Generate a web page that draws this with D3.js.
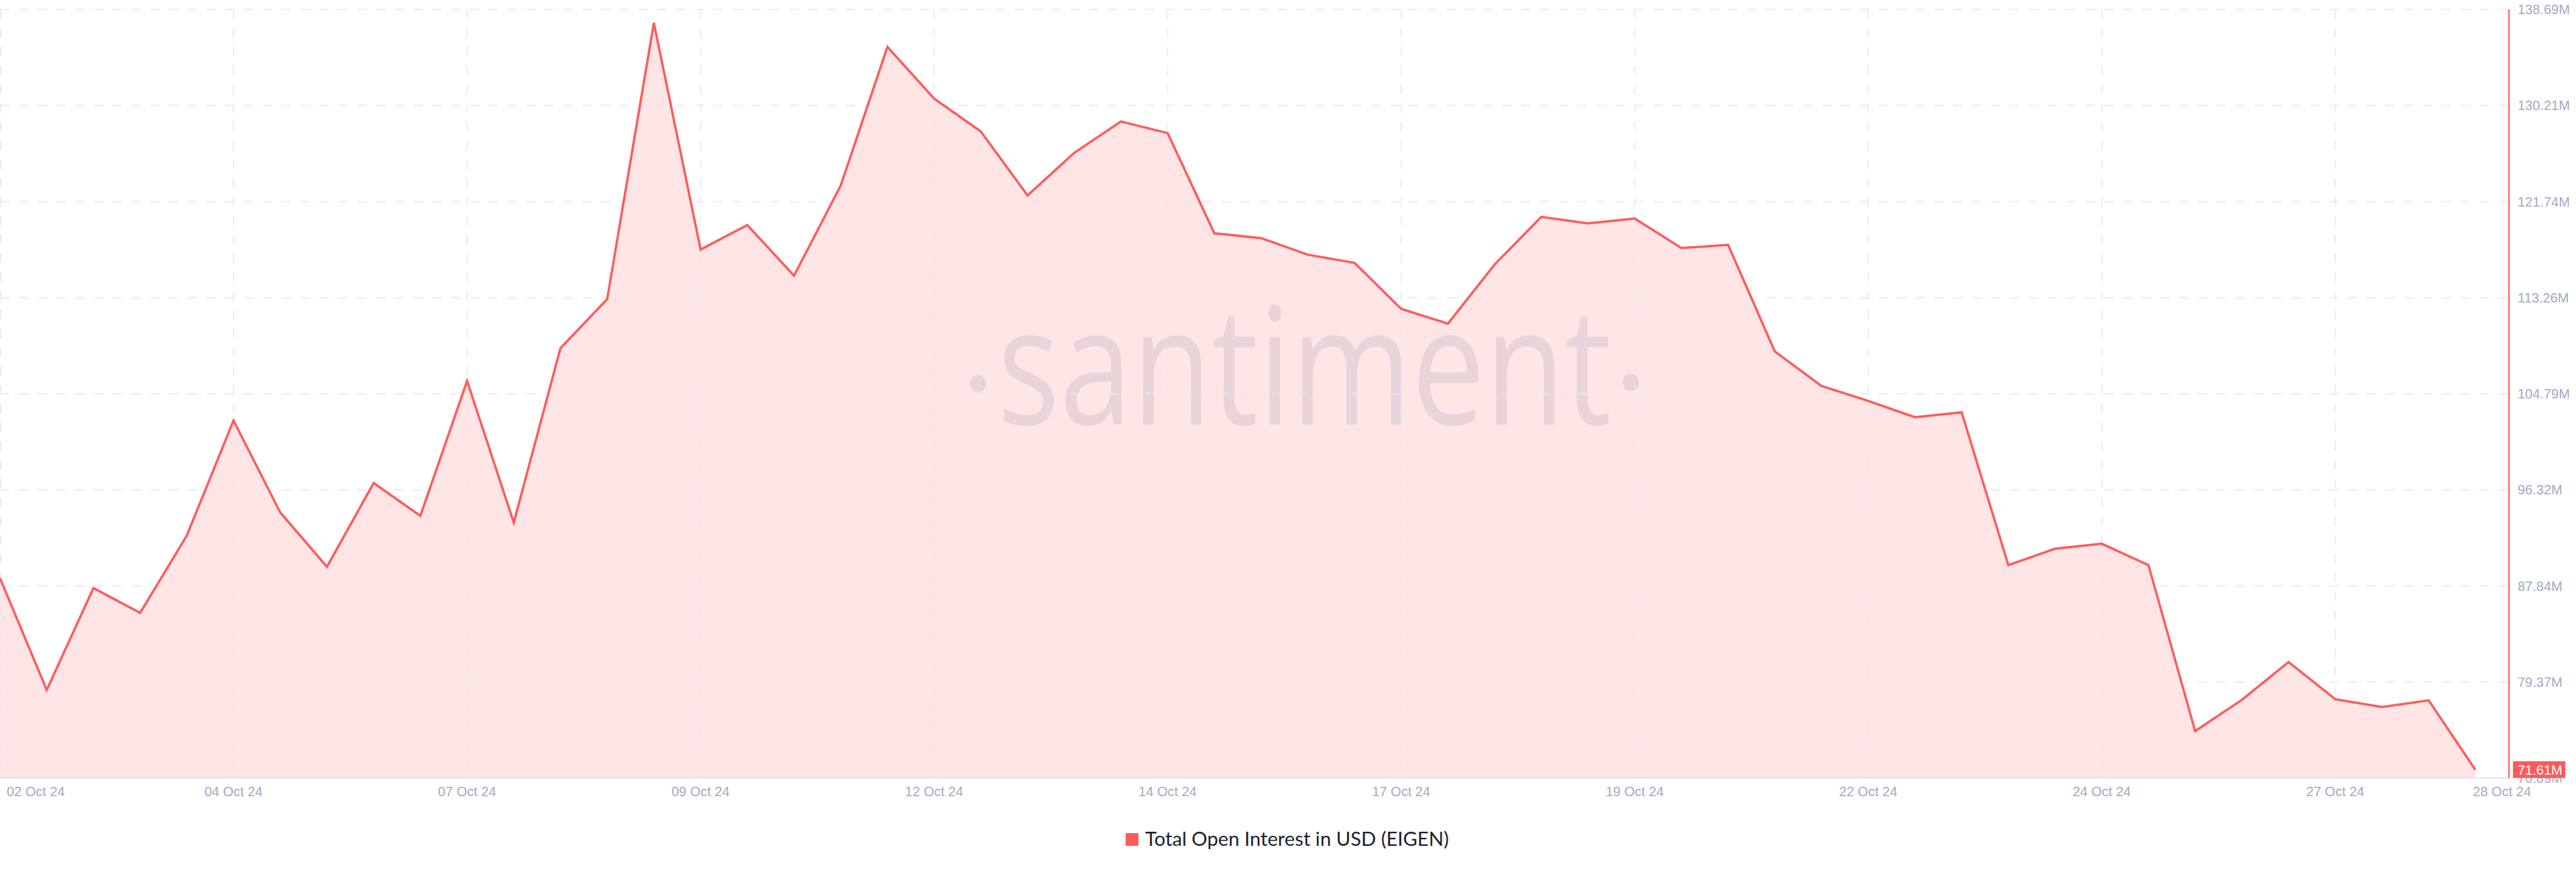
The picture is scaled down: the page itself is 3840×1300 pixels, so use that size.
<!DOCTYPE html>
<html>
<head>
<meta charset="utf-8">
<script src="https://cdn.jsdelivr.net/npm/d3@7"></script>
<style>
  html, body { margin: 0; padding: 0; background: #ffffff; }
  svg { display: block; }
</style>
</head>
<body>
<svg id="chart" width="3840" height="1300"></svg>
<script>
// ---- Data ----
const dates = [
  "2024-10-01T12:00Z","2024-10-02T00:00Z","2024-10-02T12:00Z","2024-10-03T00:00Z","2024-10-03T12:00Z",
  "2024-10-04T00:00Z","2024-10-04T12:00Z","2024-10-05T00:00Z","2024-10-05T12:00Z","2024-10-06T00:00Z",
  "2024-10-06T12:00Z","2024-10-07T00:00Z","2024-10-07T12:00Z","2024-10-08T00:00Z","2024-10-08T12:00Z",
  "2024-10-09T00:00Z","2024-10-09T12:00Z","2024-10-10T00:00Z","2024-10-10T12:00Z","2024-10-11T00:00Z",
  "2024-10-11T12:00Z","2024-10-12T00:00Z","2024-10-12T12:00Z","2024-10-13T00:00Z","2024-10-13T12:00Z",
  "2024-10-14T00:00Z","2024-10-14T12:00Z","2024-10-15T00:00Z","2024-10-15T12:00Z","2024-10-16T00:00Z",
  "2024-10-16T12:00Z","2024-10-17T00:00Z","2024-10-17T12:00Z","2024-10-18T00:00Z","2024-10-18T12:00Z",
  "2024-10-19T00:00Z","2024-10-19T12:00Z","2024-10-20T00:00Z","2024-10-20T12:00Z","2024-10-21T00:00Z",
  "2024-10-21T12:00Z","2024-10-22T00:00Z","2024-10-22T12:00Z","2024-10-23T00:00Z","2024-10-23T12:00Z",
  "2024-10-24T00:00Z","2024-10-24T12:00Z","2024-10-25T00:00Z","2024-10-25T12:00Z","2024-10-26T00:00Z",
  "2024-10-26T12:00Z","2024-10-27T00:00Z","2024-10-27T12:00Z","2024-10-28T00:00Z"
];
// Total Open Interest in USD (EIGEN), millions
const openInterest = [
  88.52, 78.66, 87.65, 85.47, 92.29, 102.43, 94.32, 89.53, 96.92, 94.02,
  105.91, 93.43, 108.81, 113.13, 137.50, 117.51, 119.67, 115.20, 123.15, 135.38,
  130.82, 127.92, 122.28, 126.04, 128.80, 127.78, 118.94, 118.52, 117.06, 116.34,
  112.28, 110.97, 116.19, 120.39, 119.82, 120.25, 117.64, 117.92, 108.52, 105.47,
  104.16, 102.72, 103.15, 89.68, 91.12, 91.56, 89.68, 75.04, 77.79, 81.13,
  77.85, 77.16, 77.75, 71.61
];
const yTickValues = [70.89, 79.37, 87.84, 96.32, 104.79, 113.26, 121.74, 130.21, 138.69];
const xTickDates = [
  "2024-10-01T12:00Z","2024-10-04T00:00Z","2024-10-06T12:00Z","2024-10-09T00:00Z",
  "2024-10-11T12:00Z","2024-10-14T00:00Z","2024-10-16T12:00Z","2024-10-19T00:00Z",
  "2024-10-21T12:00Z","2024-10-24T00:00Z","2024-10-26T12:00Z","2024-10-28T00:00Z"
];
const xTickLabels = [
  "02 Oct 24","04 Oct 24","07 Oct 24","09 Oct 24","12 Oct 24","14 Oct 24",
  "17 Oct 24","19 Oct 24","22 Oct 24","24 Oct 24","27 Oct 24","28 Oct 24"
];
const seriesName = "Total Open Interest in USD (EIGEN)";
const lastValueLabel = "71.61M";

// ---- Layout ----
const plotLeft = 0, plotRight = 3740, plotTop = 14, plotBottom = 1160;
const lastX = 3690;
const RED = "#ff5b5b";
const GRID = "#e6e9f3";
const TICKTXT = "#9faac4";

const svg = d3.select("#chart");
svg.append("rect").attr("width", 3840).attr("height", 1300).attr("fill", "#ffffff");

const parsed = dates.map(d => new Date(d));
const data = parsed.map((d, i) => ({ date: d, v: openInterest[i] }));

const x = d3.scaleUtc().domain(d3.extent(parsed)).range([plotLeft, lastX]);
const y = d3.scaleLinear().domain([yTickValues[0], yTickValues[yTickValues.length - 1]]).range([plotBottom, plotTop]);

// Area fill
const area = d3.area().x(d => x(d.date)).y0(y(yTickValues[0])).y1(d => y(d.v));
svg.append("path").datum(data).attr("d", area).attr("fill", "#ffe5e6");

// Watermark
const wm = svg.append("g").attr("class", "watermark");
wm.append("text")
  .attr("x", 1487).attr("y", 633)
  .attr("font-family", "'Open Sans', sans-serif")
  .attr("font-size", 243)
  .attr("textLength", 915).attr("lengthAdjust", "spacingAndGlyphs")
  .attr("fill", "#e8d4db")
  .text("santiment");
wm.append("ellipse").attr("cx", 1458).attr("cy", 572).attr("rx", 12).attr("ry", 13).attr("fill", "#e8d4db");
wm.append("ellipse").attr("cx", 2431).attr("cy", 570).attr("rx", 12).attr("ry", 13).attr("fill", "#e8d4db");

// Horizontal gridlines
const gridTicks = yTickValues.slice(1);
svg.append("g").selectAll("line").data(gridTicks).join("line")
  .attr("x1", plotLeft).attr("x2", plotRight)
  .attr("y1", d => y(d)).attr("y2", d => y(d))
  .attr("stroke", GRID).attr("stroke-width", 2)
  .attr("stroke-dasharray", "14 14")
  .attr("stroke-opacity", 0.85);

// Vertical gridlines
const xGridDates = xTickDates.slice(0, xTickDates.length - 1).map(d => new Date(d));
svg.append("g").selectAll("line").data(xGridDates).join("line")
  .attr("x1", d => Math.max(1, x(d))).attr("x2", d => Math.max(1, x(d)))
  .attr("y1", plotTop).attr("y2", plotBottom)
  .attr("stroke", GRID).attr("stroke-width", 2)
  .attr("stroke-dasharray", "14 14")
  .attr("stroke-opacity", 0.85);

// Bottom axis line
svg.append("line").attr("x1", plotLeft).attr("x2", plotRight)
  .attr("y1", plotBottom).attr("y2", plotBottom)
  .attr("stroke", "#e1e6f1").attr("stroke-width", 2);

// Series line
const line = d3.line().x(d => x(d.date)).y(d => y(d.v));
svg.append("path").datum(data).attr("d", line)
  .attr("fill", "none").attr("stroke", RED).attr("stroke-width", 3.5)
  .attr("stroke-linejoin", "miter");

// Right axis line
svg.append("line").attr("x1", plotRight).attr("x2", plotRight)
  .attr("y1", plotTop).attr("y2", plotBottom)
  .attr("stroke", RED).attr("stroke-width", 2);

// Y tick labels
const fmtM = d => d.toFixed(2) + "M";
svg.append("g").selectAll("text").data(yTickValues).join("text")
  .attr("x", plotRight + 13).attr("y", d => y(d))
  .attr("dy", "0.35em")
  .attr("font-family", "'Liberation Sans', Arial, sans-serif")
  .attr("font-size", 20)
  .attr("fill", TICKTXT)
  .text(fmtM);

// X tick labels
const xLabG = svg.append("g");
xTickDates.forEach((d, i) => {
  const px = x(new Date(d));
  let anchor = "middle", tx = px;
  if (i === 0) { anchor = "start"; tx = px + 10; }
  if (i === xTickDates.length - 1) { anchor = "end"; tx = px + 83; }
  xLabG.append("text")
    .attr("x", tx).attr("y", 1187)
    .attr("text-anchor", anchor)
    .attr("font-family", "'Liberation Sans', Arial, sans-serif")
    .attr("font-size", 20)
    .attr("fill", TICKTXT)
    .text(xTickLabels[i]);
});

// Last value badge
const lastY = y(openInterest[openInterest.length - 1]);
svg.append("rect").attr("x", plotRight + 6).attr("y", lastY - 13)
  .attr("width", 78).attr("height", 25).attr("fill", RED);
svg.append("text").attr("x", plotRight + 13).attr("y", lastY)
  .attr("dy", "0.36em")
  .attr("font-family", "'Liberation Sans', Arial, sans-serif")
  .attr("font-size", 20).attr("fill", "#ffffff")
  .text(lastValueLabel);

// Legend
const lg = svg.append("g");
lg.append("rect").attr("x", 1678).attr("y", 1242).attr("width", 19).attr("height", 19).attr("fill", RED);
const lt = lg.append("text").attr("x", 1707).attr("y", 1261)
  .attr("font-family", "Lato, 'Open Sans', sans-serif")
  .attr("font-size", 29)
  .attr("fill", "#1b1e2c")
  .text(seriesName);
const w = lt.node().getComputedTextLength();
if (w > 0) lt.attr("font-size", 29 * 453 / w);
</script>
</body>
</html>
